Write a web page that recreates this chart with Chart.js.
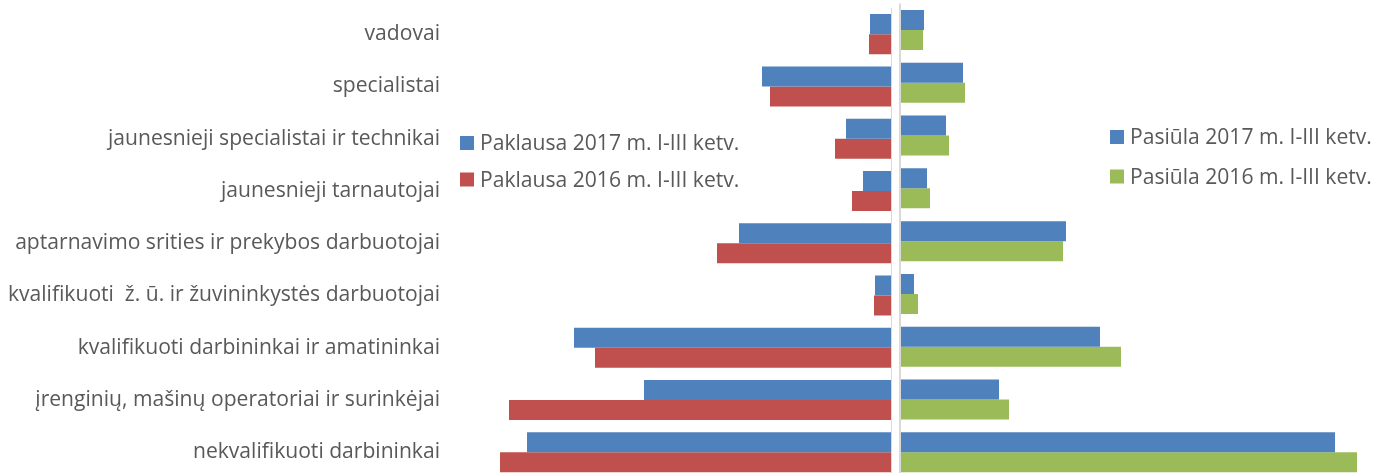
<!DOCTYPE html>
<html>
<head>
<meta charset="utf-8">
<script src="https://cdn.jsdelivr.net/npm/chart.js@4.4.1/dist/chart.umd.min.js"></script>
<style>
  html, body { margin: 0; padding: 0; background: #fff; overflow: hidden; }
  #wrap { position: relative; width: 1387px; height: 473px; overflow: hidden; }
  #left { position: absolute; left: 0; top: 0; width: 896px; height: 480px; }
  #right { position: absolute; left: 896px; top: 0; width: 491px; height: 480px; }
</style>
</head>
<body>
<div id="wrap">
  <div id="left"><canvas id="paklausa"></canvas></div>
  <div id="right"><canvas id="pasiula"></canvas></div>
</div>
<script>
// kategorijos
var kategorijos = [
  'vadovai',
  'specialistai',
  'jaunesnieji specialistai ir technikai',
  'jaunesnieji tarnautojai',
  'aptarnavimo srities ir prekybos darbuotojai',
  'kvalifikuoti  ž. ū. ir žuvininkystės darbuotojai',
  'kvalifikuoti darbininkai ir amatininkai',
  'įrenginių, mašinų operatoriai ir surinkėjai',
  'nekvalifikuoti darbininkai'
];

// reiksmes (ivertintos is paveikslo)
var paklausa2017 = [21, 129, 45, 28, 152, 16, 317, 247, 364];
var paklausa2016 = [22, 121, 56, 39, 174, 17, 296, 382, 391];
var pasiula2017 = [23, 62, 45, 26, 165, 13, 199, 98, 434];
var pasiula2016 = [22, 64, 48, 29, 162, 17, 220, 108, 456];

var spalvaMelyna = '#4F81BD';
var spalvaRaudona = '#C0504D';
var spalvaZalia = '#9BBB59';
var sriftas = '"Open Sans", "DejaVu Sans", sans-serif';
var tekstoSpalva = '#595959';
var dydis = 21.1;

// legenda piesiama ant drobes
var legendaPlugin = {
  id: 'legenda',
  afterDraw: function(chart, args, opts) {
    var ctx = chart.ctx;
    ctx.save();
    ctx.font = dydis + 'px ' + sriftas;
    ctx.textBaseline = 'middle';
    ctx.textAlign = 'left';
    chart.data.datasets.forEach(function(ds, i) {
      var y = opts.y + i * opts.gap;
      ctx.fillStyle = ds.backgroundColor;
      ctx.fillRect(opts.x, y - 7, 14, 14);
      ctx.fillStyle = tekstoSpalva;
      ctx.fillText(ds.label, opts.x + 20, y + 1);
    });
    ctx.restore();
  }
};

// vertikali linija ties nuliu
var linijaPlugin = {
  id: 'linija',
  afterDatasetsDraw: function(chart, args, opts) {
    var ctx = chart.ctx;
    var x = chart.scales.x.getPixelForValue(0) + opts.dx;
    ctx.save();
    ctx.strokeStyle = opts.color;
    ctx.lineWidth = opts.width;
    ctx.beginPath();
    ctx.moveTo(x, chart.chartArea.top);
    ctx.lineTo(x, chart.chartArea.bottom + 10);
    ctx.stroke();
    ctx.restore();
  }
};

new Chart(document.getElementById('paklausa'), {
  type: 'bar',
  data: {
    labels: kategorijos,
    datasets: [
      { label: 'Paklausa 2017 m. I-III ketv.', data: paklausa2017, backgroundColor: spalvaMelyna },
      { label: 'Paklausa 2016 m. I-III ketv.', data: paklausa2016, backgroundColor: spalvaRaudona }
    ]
  },
  options: {
    indexAxis: 'y',
    responsive: true,
    maintainAspectRatio: false,
    animation: false,
    layout: { padding: { top: 8, bottom: 1.6, left: 0, right: 5 } },
    datasets: { bar: { categoryPercentage: 0.766, barPercentage: 1 } },
    scales: {
      x: { display: false, reverse: true, min: 0, max: 441 },
      y: {
        grid: { display: false, drawTicks: false },
        border: { display: false },
        ticks: { padding: 10, color: tekstoSpalva, font: { family: sriftas, size: dydis } },
        afterFit: function(s) {
          s.width = 450;
          s.paddingTop = 0;
          s.paddingBottom = 0;
        }
      }
    },
    plugins: {
      legend: { display: false },
      tooltip: { enabled: false },
      legenda: { x: 460, y: 143, gap: 36.5 },
      linija: { color: '#d9d9d9', width: 1, dx: 0.5 }
    }
  },
  plugins: [legendaPlugin, linijaPlugin]
});

new Chart(document.getElementById('pasiula'), {
  type: 'bar',
  data: {
    labels: kategorijos,
    datasets: [
      { label: 'Pasiūla 2017 m. I-III ketv.', data: pasiula2017, backgroundColor: spalvaMelyna },
      { label: 'Pasiūla 2016 m. I-III ketv.', data: pasiula2016, backgroundColor: spalvaZalia }
    ]
  },
  options: {
    indexAxis: 'y',
    responsive: true,
    maintainAspectRatio: false,
    animation: false,
    layout: { padding: { top: 3.6, bottom: 1.3, left: 5, right: 6 } },
    datasets: { bar: { categoryPercentage: 0.758, barPercentage: 1 } },
    scales: {
      x: { display: false, min: 0, max: 480 },
      y: { display: false }
    },
    plugins: {
      legend: { display: false },
      tooltip: { enabled: false },
      legenda: { x: 214, y: 137, gap: 39.5 },
      linija: { color: '#d9d9d9', width: 2, dx: -1 }
    }
  },
  plugins: [legendaPlugin, linijaPlugin]
});
</script>
</body>
</html>
